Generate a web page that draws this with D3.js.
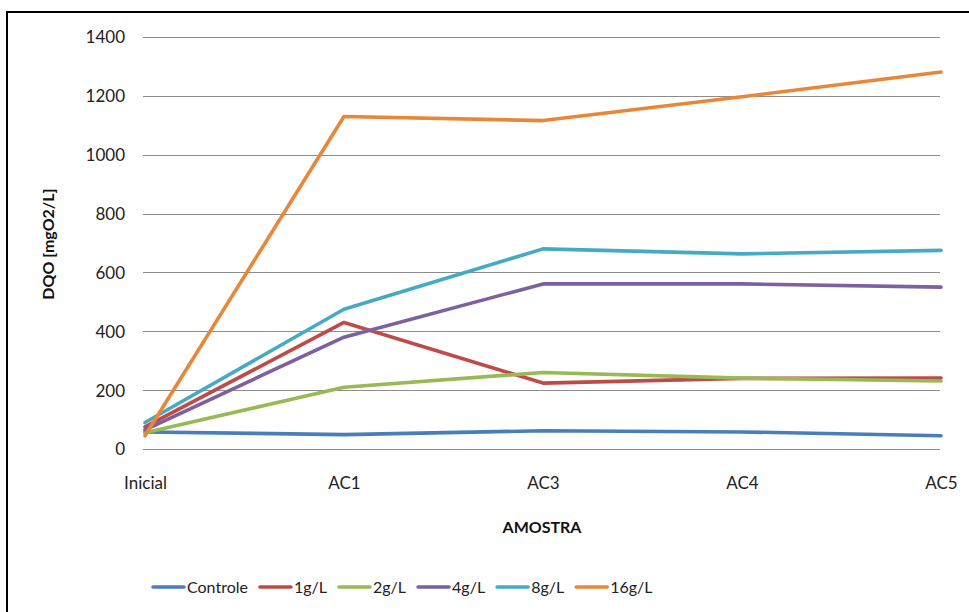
<!DOCTYPE html>
<html>
<head>
<meta charset="utf-8">
<script src="https://cdn.jsdelivr.net/npm/d3@7"></script>
<style>
  html, body { margin: 0; padding: 0; background: #fff; }
  svg { display: block; font-family: "Lato", "Open Sans", sans-serif; }
</style>
</head>
<body>
<svg id="chart" width="969" height="612"></svg>
<script>
// Sampling points along the x axis
const categories = ["Inicial", "AC1", "AC3", "AC4", "AC5"];

// DQO per sample, mgO2/L
const controle = [58, 49, 62, 58, 45];
const g1 = [75, 430, 224, 240, 241];
const g2 = [55, 210, 260, 241, 231];
const g4 = [65, 380, 561, 561, 550];
const g8 = [90, 475, 680, 663, 675];
const g16 = [45, 1130, 1116, 1197, 1281];

const seriesNames = ["Controle", "1g/L", "2g/L", "4g/L", "8g/L", "16g/L"];
const seriesColors = ["#4A7EBB", "#BE4B48", "#98B954", "#7D60A0", "#46AAC5", "#E8873A"];
const yTicks = [0, 200, 400, 600, 800, 1000, 1200, 1400];

const series = [controle, g1, g2, g4, g8, g16].map((values, i) => ({
  name: seriesNames[i], color: seriesColors[i], values
}));

const svg = d3.select("#chart");

// outer frame
svg.append("rect")
  .attr("x", 7).attr("y", 12)
  .attr("width", 980).attr("height", 620)
  .attr("fill", "none").attr("stroke", "#000").attr("stroke-width", 2);

const plot = { left: 145, right: 941, top: 37, bottom: 449 };

const x = d3.scalePoint().domain(categories).range([plot.left, plot.right]);
const y = d3.scaleLinear().domain([0, 1400]).range([plot.bottom, plot.top]);

// horizontal gridlines
svg.append("g")
  .selectAll("line")
  .data(yTicks)
  .join("line")
  .attr("x1", plot.left - 2).attr("x2", plot.right - 1)
  .attr("y1", d => Math.round(y(d)) + 0.5).attr("y2", d => Math.round(y(d)) + 0.5)
  .attr("stroke", "#8c8c8c").attr("stroke-width", 1.2);

// y axis labels
const yAxis = d3.axisLeft(y).tickValues(yTicks).tickFormat(d3.format("d")).tickSize(0).tickPadding(0);
const gy = svg.append("g").attr("transform", `translate(${plot.left - 20},0)`).call(yAxis);
gy.select(".domain").remove();
gy.selectAll("text")
  .attr("font-size", 17).attr("fill", "#222")
  .attr("font-family", "Lato, sans-serif")
  .attr("dy", "0.35em");

// x axis labels
const xAxis = d3.axisBottom(x).tickSize(0).tickPadding(0);
const gx = svg.append("g").attr("transform", `translate(0,${plot.bottom + 34})`).call(xAxis);
gx.select(".domain").remove();
gx.selectAll("text")
  .attr("font-size", 17).attr("fill", "#222")
  .attr("font-family", "Lato, sans-serif")
  .attr("dy", "0.35em");

// axis titles
svg.append("text")
  .attr("x", 542).attr("y", 533)
  .attr("text-anchor", "middle")
  .attr("font-size", 16).attr("font-weight", "bold").attr("fill", "#111")
  .text("AMOSTRA");

svg.append("text")
  .attr("transform", "translate(48,244) rotate(-90)")
  .attr("text-anchor", "middle")
  .attr("dy", "0.35em")
  .attr("font-size", 16).attr("font-weight", "bold").attr("fill", "#111")
  .text("DQO [mgO2/L]");

// series lines
const line = d3.line()
  .x((d, i) => x(categories[i]))
  .y(d => y(d));

svg.append("g")
  .selectAll("path")
  .data(series)
  .join("path")
  .attr("d", d => line(d.values))
  .attr("fill", "none")
  .attr("stroke", d => d.color)
  .attr("stroke-width", 3.6)
  .attr("stroke-linejoin", "round")
  .attr("stroke-linecap", "round");

// legend
const legend = svg.append("g").attr("transform", "translate(0,587)");
let lx = 153;
series.forEach(s => {
  const item = legend.append("g").attr("transform", `translate(${lx},0)`);
  item.append("line")
    .attr("x1", 0).attr("x2", 31).attr("y1", 0).attr("y2", 0)
    .attr("stroke", s.color).attr("stroke-width", 3.6).attr("stroke-linecap", "round");
  const t = item.append("text")
    .attr("x", 34).attr("y", 0).attr("dy", "0.35em")
    .attr("font-size", 16).attr("fill", "#222")
    .text(s.name);
  lx += 34 + t.node().getComputedTextLength() + 12;
});
</script>
</body>
</html>
